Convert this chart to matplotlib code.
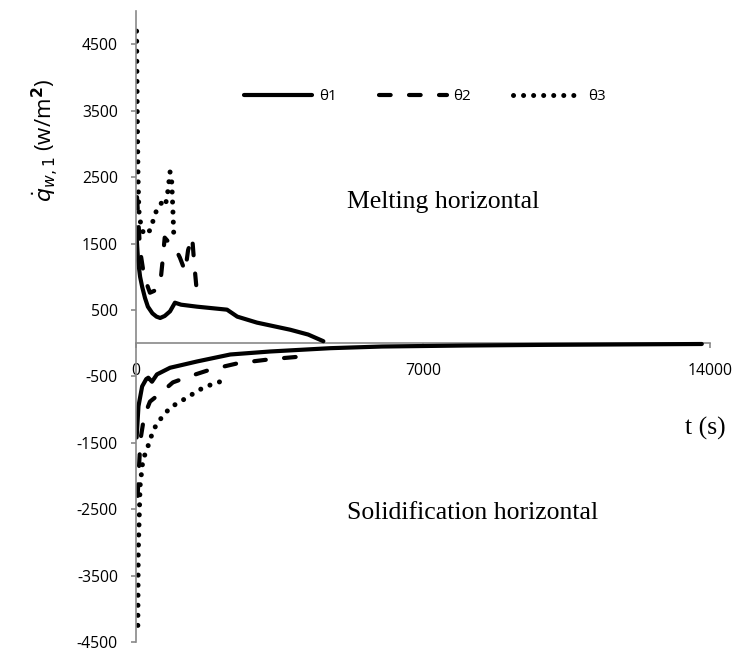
import matplotlib
matplotlib.use("Agg")
import matplotlib.pyplot as plt

# ---------------- datos ----------------
# fusión (melting) - flujo de calor positivo
t_m1 = [0, 25, 50, 100, 150, 220, 290, 400, 500, 590, 700, 830, 950, 1100, 1490, 2220, 2470, 2950, 3760, 4200, 4570]
q_m1 = [1750, 1500, 1250, 1000, 850, 680, 550, 450, 400, 380, 410, 480, 610, 580, 550, 505, 400, 310, 203, 130, 30]

t_m2 = [25, 100, 200, 340, 450, 590, 650, 700, 800, 950, 1070, 1200, 1270, 1370, 1420, 1480, 1500]
q_m2 = [2200, 1400, 1000, 760, 790, 880, 1250, 1590, 1520, 1440, 1290, 1080, 1400, 1600, 1200, 800, 620]

t_m3 = [15, 30, 50, 70, 100, 150, 220, 340, 420, 500, 640, 720, 780, 830, 870, 900, 920]
q_m3 = [4700, 3500, 2500, 2000, 1850, 1700, 1630, 1700, 1850, 2000, 2130, 2080, 2300, 2580, 2450, 2000, 1650]

# solidificación - flujo de calor negativo
t_s1 = [15, 60, 150, 250, 300, 390, 510, 830, 1490, 2300, 3270, 4740, 6000, 8000, 10000, 12000, 13800]
q_s1 = [-1420, -950, -650, -540, -520, -580, -470, -370, -275, -170, -125, -75, -50, -35, -25, -18, -12]

t_s2 = [40, 70, 110, 200, 340, 640, 900, 1300, 1800, 2500, 3300, 4130]
q_s2 = [-2300, -1900, -1450, -1100, -880, -730, -590, -500, -400, -300, -240, -195]

t_s3 = [45, 55, 100, 170, 270, 340, 510, 660, 830, 1080, 1370, 1640, 1980, 2220]
q_s3 = [-4250, -3150, -2150, -1750, -1600, -1450, -1200, -1100, -970, -880, -770, -670, -590, -560]

x_ticks = [0, 7000, 14000]
y_ticks = [-4500, -3500, -2500, -1500, -500, 500, 1500, 2500, 3500, 4500]
series_labels = ['θ1', 'θ2', 'θ3']

# ---------------- gráfico ----------------
fig = plt.figure(figsize=(7.5, 6.52), dpi=100)
ax = fig.add_axes([136/750, 1 - 642/652, (710 - 136)/750, (642 - 11.2)/652])

gris = '#898989'

estilos = [
    dict(linestyle='-', solid_capstyle='round', lw=3.0),
    dict(linestyle=(0, (2.8, 4.4)), dash_capstyle='round', lw=3.0),
    dict(linestyle=(0, (0.01, 2.0)), dash_capstyle='round', lw=3.6),
]

lineas = []
for (t, q), est, lab in zip([(t_m1, q_m1), (t_m2, q_m2), (t_m3, q_m3)], estilos, series_labels):
    l, = ax.plot(t, q, color='black', label=lab, **est)
    lineas.append(l)
for (t, q), est in zip([(t_s1, q_s1), (t_s2, q_s2), (t_s3, q_s3)], estilos):
    ax.plot(t, q, color='black', **est)

ax.set_xlim(0, 14000)
ax.set_ylim(-4500, 5000)

for s in ['top', 'right']:
    ax.spines[s].set_visible(False)
ax.spines['left'].set_color(gris)
ax.spines['left'].set_linewidth(1.2)
ax.spines['bottom'].set_position(('data', 0))
ax.spines['bottom'].set_color(gris)
ax.spines['bottom'].set_linewidth(1.2)
ax.spines['bottom'].set_zorder(0)

ax.set_xticks(x_ticks)
ax.set_xticklabels([str(v) for v in x_ticks])
ax.set_yticks(y_ticks)
ax.set_yticklabels([str(v) for v in y_ticks])
ax.tick_params(axis='both', direction='out', length=3.6, width=1.2, color=gris,
               labelsize=11.3, labelcolor='black')
ax.tick_params(axis='x', pad=10.5)
ax.tick_params(axis='y', pad=9.4)
for lab in ax.get_xticklabels() + ax.get_yticklabels():
    lab.set_fontfamily('Open Sans')

fig.text(45/750, 1 - 140/652, r'$\dot{q}_{w,1}$ (w/m$^{\mathbf{2}}$)', rotation=90,
         ha='center', va='center', fontsize=16, family='Open Sans')

leg = ax.legend(handles=lineas, loc='center', bbox_to_anchor=(425/750, 1 - 97/652),
                bbox_transform=fig.transFigure, ncol=3, frameon=False,
                handlelength=4.45, handletextpad=0.45, columnspacing=2.75,
                borderpad=0, borderaxespad=0, prop={'family': 'Open Sans', 'size': 11})

serif = 'Liberation Serif'
fig.text(347/750, 1 - 202/652, 'Melting horizontal', ha='left', va='center',
         fontsize=18.5, family=serif)
fig.text(347/750, 1 - 513/652, 'Solidification horizontal', ha='left', va='center',
         fontsize=18.5, family=serif)
fig.text(705/750, 1 - 428/652, 't (s)', ha='center', va='center',
         fontsize=18.5, family=serif)

fig.savefig('out.png', dpi=100)
